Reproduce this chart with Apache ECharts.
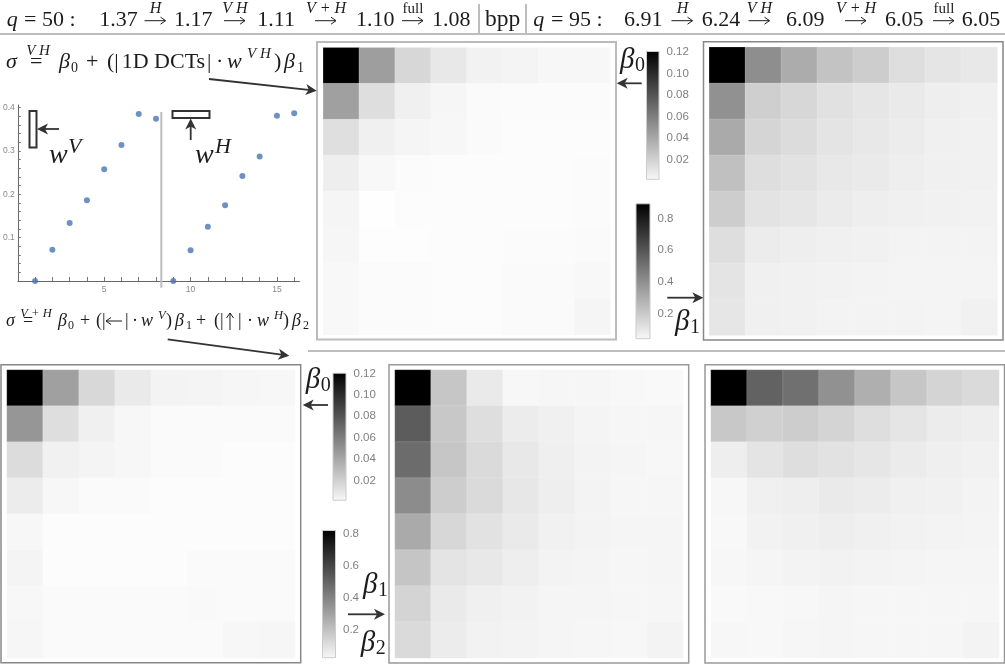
<!DOCTYPE html>
<html>
<head>
<meta charset="utf-8">
<title>DCT weights</title>
<style>
  html, body { margin: 0; padding: 0; background: #fff; }
  #chart { width: 1005px; height: 664px; }
</style>
<script src="https://cdn.jsdelivr.net/npm/echarts@6/dist/echarts.min.js"></script>
</head>
<body>
<div id="chart"></div>
<script>
// values, rows top to bottom
const beta0VH = [
  [.1206, .0471, .0206, .0127, .0080, .0071, .0057, .0057],
  [.0462, .0173, .0090, .0062, .0043, .0039, .0039, .0039],
  [.0169, .0090, .0067, .0057, .0043, .0034, .0034, .0034],
  [.0099, .0053, .0039, .0034, .0034, .0034, .0034, .0039],
  [.0067, .0025, .0034, .0034, .0034, .0034, .0034, .0039],
  [.0062, .0029, .0029, .0034, .0034, .0039, .0039, .0043],
  [.0053, .0039, .0039, .0034, .0034, .0043, .0043, .0053],
  [.0053, .0039, .0039, .0034, .0034, .0043, .0043, .0067],
];
const beta1VH = [
  [.894, .419, .318, .241, .208, .151, .127, .117],
  [.409, .201, .174, .141, .124, .110, .097, .090],
  [.325, .181, .157, .130, .117, .104, .090, .087],
  [.251, .151, .137, .117, .110, .097, .090, .087],
  [.208, .134, .124, .107, .097, .090, .087, .084],
  [.151, .104, .097, .090, .087, .080, .080, .080],
  [.130, .090, .087, .084, .080, .077, .077, .077],
  [.124, .090, .087, .080, .080, .080, .077, .087],
];
const beta0VplusH = [
  [.1206, .0462, .0201, .0118, .0076, .0067, .0062, .0057],
  [.0508, .0173, .0090, .0057, .0043, .0039, .0039, .0043],
  [.0183, .0085, .0067, .0057, .0039, .0039, .0034, .0034],
  [.0108, .0053, .0043, .0039, .0034, .0034, .0034, .0034],
  [.0057, .0034, .0034, .0034, .0034, .0034, .0034, .0034],
  [.0067, .0034, .0034, .0034, .0034, .0039, .0043, .0043],
  [.0057, .0039, .0039, .0043, .0043, .0048, .0043, .0043],
  [.0062, .0039, .0039, .0039, .0043, .0043, .0053, .0062],
];
const beta1VplusH = [
  [.825, .205, .093, .052, .055, .055, .049, .046],
  [.537, .199, .130, .086, .074, .061, .055, .055],
  [.487, .205, .143, .099, .077, .065, .058, .052],
  [.387, .184, .143, .102, .080, .065, .055, .055],
  [.293, .152, .118, .093, .071, .065, .058, .058],
  [.209, .112, .099, .080, .065, .061, .055, .058],
  [.162, .093, .074, .068, .058, .058, .055, .055],
  [.143, .086, .068, .065, .058, .055, .052, .065],
];
const beta2VplusH = [
  [.825, .518, .475, .371, .277, .205, .162, .143],
  [.199, .174, .184, .162, .130, .108, .086, .080],
  [.080, .112, .130, .118, .105, .090, .077, .071],
  [.052, .074, .080, .093, .086, .074, .071, .065],
  [.049, .068, .074, .080, .074, .068, .065, .061],
  [.052, .058, .065, .068, .065, .061, .058, .058],
  [.046, .049, .052, .058, .055, .055, .055, .055],
  [.052, .049, .055, .058, .055, .055, .055, .065],
];

const weightIndex = [1, 2, 3, 4, 5, 6, 7, 8, 9, 10, 11, 12, 13, 14, 15, 16];
const weightValues = [0, .072, .134, .186, .258, .314, .385, .374, 0, .071, .125, .175, .242, .287, .381, .387];
const weightXTicks = [5, 10, 15];
const weightYTicks = [.1, .2, .3, .4];

const beta0Ticks = [.02, .04, .06, .08, .10, .12];
const beta1Ticks = [.2, .4, .6, .8];

const TEXT = '#1c1c1c';
const GREY_RULE = '#bdbdbd';
const SERIF = '"Liberation Serif", serif';

const heatmaps = [
  {data: beta0VH, min: .002, max: .1207, left: 323.3, top: 47.7, size: 287},
  {data: beta1VH, min: .04, max: .895, left: 709.3, top: 47.3, size: 288},
  {data: beta0VplusH, min: .0018, max: .1206, left: 7, top: 370, size: 288},
  {data: beta1VplusH, min: .027, max: .825, left: 395, top: 370, size: 288},
  {data: beta2VplusH, min: .027, max: .825, left: 711, top: 370, size: 288},
];

const colorbars = [
  {min: .002, max: .1207, ticks: beta0Ticks, digits: 2, left: 646, top: 51, width: 13.5, height: 128.3},
  {min: .04, max: .895, ticks: beta1Ticks, digits: 1, left: 635.5, top: 203.3, width: 15, height: 135.4},
  {min: .0018, max: .1206, ticks: beta0Ticks, digits: 2, left: 332.5, top: 372.7, width: 14, height: 127.6},
  {min: .027, max: .825, ticks: beta1Ticks, digits: 1, left: 322, top: 530, width: 14, height: 127.7},
];

const grids = [], xAxes = [], yAxes = [], series = [], visualMaps = [];
const cellNames = ['1', '2', '3', '4', '5', '6', '7', '8'];

heatmaps.forEach((hm) => {
  const i = grids.length;
  grids.push({left: hm.left, top: hm.top, width: hm.size, height: hm.size});
  xAxes.push({gridIndex: i, type: 'category', data: cellNames, show: false});
  yAxes.push({gridIndex: i, type: 'category', data: cellNames, inverse: true, show: false});
  const cells = [];
  hm.data.forEach((row, r) => row.forEach((v, c) => cells.push([c, r, v])));
  visualMaps.push({show: false, seriesIndex: series.length, min: hm.min, max: hm.max, inRange: {color: ['#ffffff', '#000000']}});
  series.push({
    type: 'heatmap',
    xAxisIndex: i,
    yAxisIndex: i,
    data: cells,
    progressive: 0,
    itemStyle: {borderColor: 'rgba(255,255,255,.25)', borderWidth: .6},
    emphasis: {disabled: true},
  });
});

// the weights plot
const plotIndex = grids.length;
grids.push({left: 14.2, top: 105, width: 285.2, height: 176});
xAxes.push({
  gridIndex: plotIndex,
  type: 'value',
  min: 0,
  max: 16.3,
  splitLine: {show: false},
  axisLine: {lineStyle: {color: '#666', width: 1}},
  axisTick: {inside: true, length: 4, customValues: weightIndex, lineStyle: {color: '#777'}},
  axisLabel: {customValues: weightXTicks, color: '#888', fontSize: 8.5, margin: 4, fontFamily: 'Liberation Sans'},
});
yAxes.push({
  gridIndex: plotIndex,
  type: 'value',
  min: 0,
  max: .406,
  splitLine: {show: false},
  axisLine: {lineStyle: {color: '#666', width: 1}},
  axisTick: {inside: true, length: 3, customValues: [.02, .04, .06, .08, .1, .12, .14, .16, .18, .2, .22, .24, .26, .28, .3, .32, .34, .36, .38, .4], lineStyle: {color: '#777'}},
  axisLabel: {customValues: weightYTicks, color: '#888', fontSize: 8.5, margin: 3, fontFamily: 'Liberation Sans', formatter: (v) => v.toFixed(1)},
});
series.push({
  type: 'scatter',
  xAxisIndex: plotIndex,
  yAxisIndex: plotIndex,
  data: weightIndex.map((x, i) => [x, weightValues[i]]),
  symbolSize: 6,
  clip: false,
  itemStyle: {color: '#4a75b3'},
});

// colorbars: one gradient bar against a value axis
colorbars.forEach((cb) => {
  const i = grids.length;
  grids.push({left: cb.left, top: cb.top, width: cb.width, height: cb.height});
  xAxes.push({gridIndex: i, type: 'category', data: ['bar'], show: false});
  yAxes.push({
    gridIndex: i,
    type: 'value',
    position: 'right',
    min: cb.min,
    max: cb.max,
    splitLine: {show: false},
    axisLine: {show: false},
    axisTick: {length: 3, customValues: cb.ticks, lineStyle: {color: '#bbb'}},
    axisLabel: {
      customValues: cb.ticks,
      color: '#808080',
      fontSize: 11.5,
      margin: 7,
      fontFamily: 'Liberation Sans',
      formatter: (v) => v.toFixed(cb.digits),
    },
  });
  series.push({
    type: 'bar',
    xAxisIndex: i,
    yAxisIndex: i,
    data: [cb.max],
    barWidth: '100%',
    silent: true,
    itemStyle: {
      borderColor: '#ccc',
      borderWidth: 1,
      color: new echarts.graphic.LinearGradient(0, 0, 0, 1, [
        {offset: 0, color: '#000'},
        {offset: 1, color: '#f8f8f8'},
      ]),
    },
  });
});

// annotation helpers
function txt(x, baseline, str, size, opts = {}) {
  return {
    type: 'text',
    x: x,
    y: baseline,
    z: 10,
    style: {
      text: str,
      fill: opts.fill || TEXT,
      font: `${opts.italic ? 'italic ' : ''}${size}px ${SERIF}`,
      align: opts.align || 'left',
      verticalAlign: 'bottom',
      lineHeight: size,
    },
  };
}

function math(x, baseline, str, size) {
  return txt(x, baseline + size * .22, str, size, {italic: true});
}

function plain(x, baseline, str, size) {
  return txt(x, baseline + size * .22, str, size);
}

function over(cx, baseline, str, size, italic = true) {
  return txt(cx, baseline + size * .22, str, size, {italic: italic, align: 'center'});
}

function rule(x1, y1, x2, y2, color = GREY_RULE, width = 2) {
  return {type: 'line', z: 5, shape: {x1, y1, x2, y2}, style: {stroke: color, lineWidth: width}};
}

function frame(x1, y1, x2, y2, color, width) {
  return {
    type: 'rect',
    z: 1,
    shape: {x: x1, y: y1, width: x2 - x1, height: y2 - y1},
    style: {fill: null, stroke: color, lineWidth: width},
  };
}

function arrow(x1, y1, x2, y2) {
  const a = Math.atan2(y2 - y1, x2 - x1);
  const ux = Math.cos(a), uy = Math.sin(a);
  const head = 11, half = 5.5;
  const bx = x2 - ux * head, by = y2 - uy * head;
  return [
    {type: 'line', z: 6, shape: {x1, y1, x2: x2 - ux * 6, y2: y2 - uy * 6}, style: {stroke: '#333', lineWidth: 1.8}},
    {
      type: 'polygon',
      z: 6,
      shape: {points: [
        [x2, y2],
        [bx - uy * half, by + ux * half],
        [x2 - ux * 8, y2 - uy * 8],
        [bx + uy * half, by - ux * half],
      ]},
      style: {fill: '#333'},
    },
  ];
}

// the thin text-weight arrows used inside the formulas
function thinArrow(x1, y1, x2, y2) {
  const a = Math.atan2(y2 - y1, x2 - x1);
  const ux = Math.cos(a), uy = Math.sin(a);
  const b = 5, h = 3.5;
  return [
    {type: 'line', z: 6, shape: {x1, y1, x2, y2}, style: {stroke: TEXT, lineWidth: 1}},
    {
      type: 'polyline',
      z: 6,
      shape: {points: [
        [x2 - ux * b - uy * h, y2 - uy * b + ux * h],
        [x2, y2],
        [x2 - ux * b + uy * h, y2 - uy * b - ux * h],
      ]},
      style: {stroke: TEXT, lineWidth: 1, fill: null},
    },
  ];
}

function beta(x, baseline, sub, size = 29, subSize = 20) {
  return [math(x, baseline, 'β', size), plain(x + 15, baseline + 3, sub, subSize)];
}

// one arrow with its superscript in the bpp header
function step(x, label, italic, size = 16) {
  return [
    ...thinArrow(x, 20.7, x + 21, 20.7),
    over(x + 11, 13, label, size, italic),
  ];
}

const graphics = [
  // header, q = 50
  math(6.7, 26, 'q', 22), plain(24, 26, '= 50 :', 22),
  plain(99.3, 26, '1.37', 22), ...step(144.5, 'H', true),
  plain(174, 26, '1.17', 22), ...step(224, 'V H', true),
  plain(257.3, 26, '1.11', 22), ...step(315, 'V + H', true),
  plain(356, 26, '1.10', 22), ...step(402, 'full', false, 15),
  plain(432, 26, '1.08', 22),
  rule(479, 4, 479, 33), plain(485, 26, 'bpp', 23.5), rule(526, 4, 526, 33),
  // header, q = 95
  math(533.3, 26, 'q', 22), plain(551, 26, '= 95 :', 22),
  plain(624, 26, '6.91', 22), ...step(671.5, 'H', true),
  plain(701.7, 26, '6.24', 22), ...step(748.5, 'V H', true),
  plain(786, 26, '6.09', 22), ...step(845, 'V + H', true),
  plain(885, 26, '6.05', 22), ...step(933, 'full', false, 15),
  plain(961.7, 26, '6.05', 22),
  rule(0, 34, 1005, 34),
  rule(308, 351, 1005, 351),

  // sigma VH equation
  math(6, 68, 'σ', 22), plain(30, 68, '=', 22), over(38, 55, 'V H', 15),
  math(59, 68, 'β', 22), plain(71, 72, '0', 14),
  plain(86, 68, '+', 22), plain(107, 68, '(|', 22), plain(121.7, 68, '1D DCTs', 22),
  plain(207, 68, '|', 22), plain(216, 68, '·', 22), math(227, 68, 'w', 22), math(247, 58, 'V H', 15),
  plain(274, 68, ')', 22), math(284, 68, 'β', 22), plain(297, 72, '1', 14),
  ...arrow(209, 79, 316.7, 90.7),

  // sigma V+H equation
  math(6, 326, 'σ', 18), plain(23, 326, '=', 18), over(36, 317, 'V + H', 12.5),
  math(58, 326, 'β', 18), plain(68, 329, '0', 12),
  plain(80, 326, '+', 18), plain(96, 326, '(|', 18), ...thinArrow(122, 321, 106, 321), plain(125, 326, '|', 18), plain(132, 326, '·', 18),
  math(141, 326, 'w', 18), math(158, 319, 'V', 12.5), plain(166, 326, ')', 18),
  math(175, 326, 'β', 18), plain(186, 329, '1', 12),
  plain(196, 326, '+', 18), plain(214, 326, '(|', 18), ...thinArrow(230, 330, 230, 313), plain(238, 326, '|', 18), plain(247, 326, '·', 18),
  math(257, 326, 'w', 18), math(274, 319, 'H', 12.5), plain(283, 326, ')', 18),
  math(292, 326, 'β', 18), plain(303, 329, '2', 12),
  ...arrow(167.7, 339.3, 289.3, 355.7),

  // weights plot notes
  rule(161.3, 112, 161.3, 287.7, '#bdbdbd', 2),
  {type: 'rect', z: 6, shape: {x: 29.5, y: 111, width: 7, height: 36.5}, style: {fill: '#fff', stroke: '#333', lineWidth: 2}},
  {type: 'rect', z: 6, shape: {x: 172.5, y: 111, width: 37, height: 7}, style: {fill: '#fff', stroke: '#333', lineWidth: 2}},
  ...arrow(59, 129, 37, 129),
  ...arrow(190.7, 140, 190.7, 118.5),
  math(49, 163, 'w', 28), math(68, 153, 'V', 22),
  math(195, 163, 'w', 28), math(215, 153, 'H', 22),

  // beta labels and their arrows
  ...beta(620, 68.3, '0'), ...arrow(641.7, 83.3, 616.7, 83.3),
  ...beta(675, 330, '1'), ...arrow(667.3, 297.7, 703.3, 297.7),
  ...beta(305.7, 388.3, '0'), ...arrow(328, 405, 302.7, 405),
  ...beta(363, 593, '1'), ...arrow(348, 614.3, 385, 614.3),
  ...beta(360.7, 651.7, '2'),

  // panel frames
  frame(317, 42, 616, 339.5, '#bbb', 2),
  frame(703.5, 41.7, 1003, 340, '#888', 1.5),
  frame(1, 364.7, 300.7, 662.7, '#888', 1.5),
  frame(389, 364.7, 688.7, 663, '#999', 1.5),
  frame(705, 364.7, 1004.5, 663, '#999', 1.5),
];

const chart = echarts.init(document.getElementById('chart'), null, {renderer: 'canvas'});
chart.setOption({
  animation: false,
  backgroundColor: '#fff',
  tooltip: {show: false},
  grid: grids,
  xAxis: xAxes,
  yAxis: yAxes,
  visualMap: visualMaps,
  series: series,
  graphic: {elements: graphics},
});
</script>
</body>
</html>
